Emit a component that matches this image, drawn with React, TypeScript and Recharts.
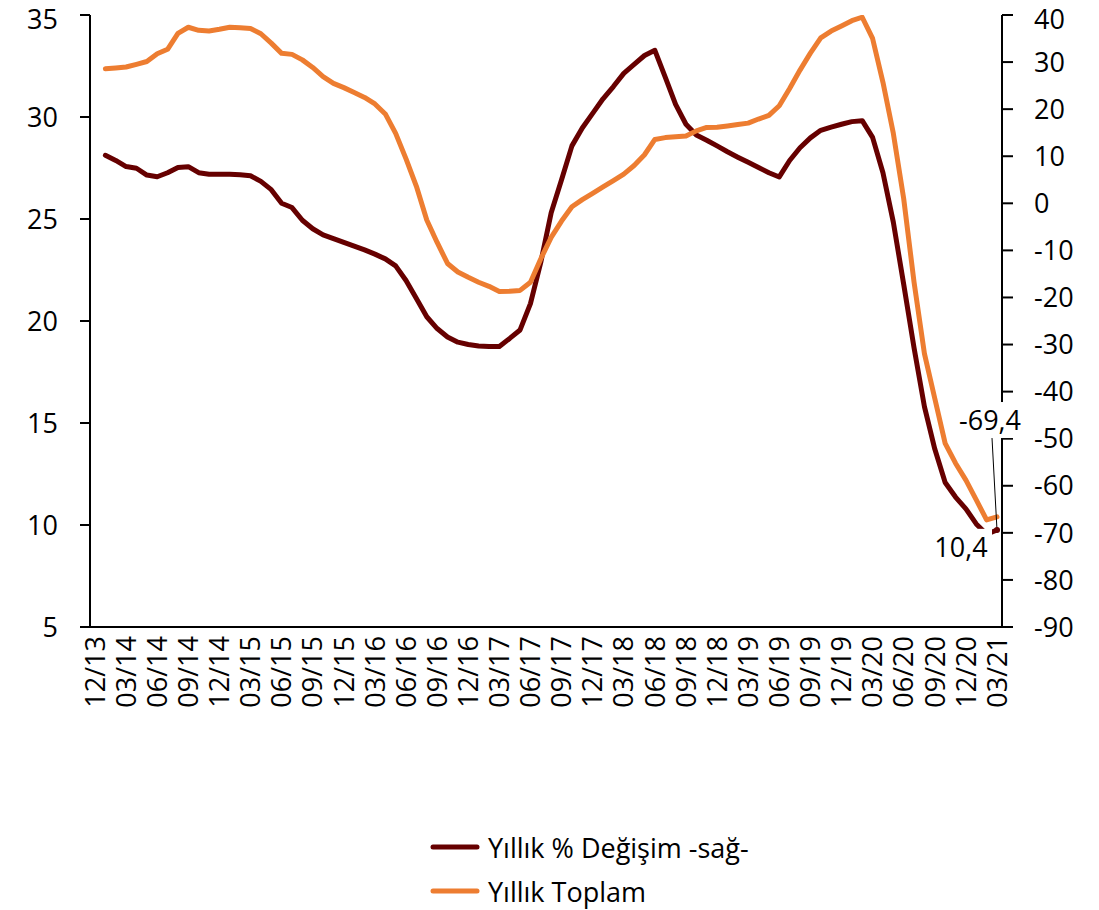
import React from 'react';
import { LineChart, Line, XAxis, YAxis, Legend, LabelList } from 'recharts';

const months = [
  '12/13',
  '01/14', '02/14', '03/14', '04/14', '05/14', '06/14', '07/14', '08/14', '09/14', '10/14', '11/14', '12/14',
  '01/15', '02/15', '03/15', '04/15', '05/15', '06/15', '07/15', '08/15', '09/15', '10/15', '11/15', '12/15',
  '01/16', '02/16', '03/16', '04/16', '05/16', '06/16', '07/16', '08/16', '09/16', '10/16', '11/16', '12/16',
  '01/17', '02/17', '03/17', '04/17', '05/17', '06/17', '07/17', '08/17', '09/17', '10/17', '11/17', '12/17',
  '01/18', '02/18', '03/18', '04/18', '05/18', '06/18', '07/18', '08/18', '09/18', '10/18', '11/18', '12/18',
  '01/19', '02/19', '03/19', '04/19', '05/19', '06/19', '07/19', '08/19', '09/19', '10/19', '11/19', '12/19',
  '01/20', '02/20', '03/20', '04/20', '05/20', '06/20', '07/20', '08/20', '09/20', '10/20', '11/20', '12/20',
  '01/21', '02/21', '03/21',
];

// Yıllık Toplam (left axis)
const annualTotal: (number | null)[] = [
  null,
  32.36, 32.40, 32.45, 32.58, 32.72, 33.1, 33.32, 34.1, 34.40, 34.25,
  34.22, 34.3, 34.40, 34.38, 34.34, 34.08, 33.62, 33.12, 33.07, 32.8,
  32.43, 31.98, 31.65, 31.44, 31.2, 30.96, 30.64, 30.15, 29.2, 27.95,
  26.6, 24.95, 23.85, 22.82, 22.4, 22.14, 21.9, 21.7, 21.45, 21.46,
  21.5, 21.9, 23.05, 24.1, 24.9, 25.6, 25.95, 26.26, 26.57, 26.88,
  27.2, 27.62, 28.15, 28.9, 28.99, 29.03, 29.07, 29.32, 29.49, 29.5,
  29.56, 29.63, 29.7, 29.9, 30.08, 30.55, 31.4, 32.3, 33.13, 33.88,
  34.21, 34.46, 34.72, 34.89, 33.85, 31.7, 29.2, 26.0, 21.9, 18.4,
  16.2, 14.0, 13.03, 12.2, 11.23, 10.25, 10.4,
];

// Yıllık % Değişim (right axis)
const annualChange: (number | null)[] = [
  null,
  10.2, 9.1, 7.8, 7.44, 6.0, 5.65, 6.5, 7.6, 7.78, 6.5,
  6.18, 6.17, 6.17, 6.05, 5.85, 4.65, 2.9, 0.0, -0.9, -3.6,
  -5.4, -6.7, -7.5, -8.3, -9.1, -9.9, -10.8, -11.8, -13.3, -16.4,
  -20.2, -24.1, -26.6, -28.4, -29.5, -30.0, -30.3, -30.4, -30.4, -28.7,
  -26.9, -21.3, -12.5, -2.0, 5.0, 12.2, 16.0, 19.1, 22.2, 24.8,
  27.6, 29.5, 31.4, 32.5, 26.8, 21.0, 16.8, 14.5, 13.4, 12.2,
  10.95, 9.8, 8.7, 7.6, 6.5, 5.6, 9.1, 11.8, 13.9, 15.5,
  16.2, 16.8, 17.35, 17.55, 14.0, 6.5, -4.0, -17.2, -30.7, -43.2,
  -52.2, -59.3, -62.4, -64.9, -68.1, -70.3, -69.4,
];

const leftTicks = [5, 10, 15, 20, 25, 30, 35];
const rightTicks = [-90, -80, -70, -60, -50, -40, -30, -20, -10, 0, 10, 20, 30, 40];

const changeName = 'Yıllık % Değişim -sağ-';
const totalName = 'Yıllık Toplam';

const DARK = '#660000';
const ORANGE = '#ED7D31';
const FONT = "'Open Sans', sans-serif";
const FS = 27;

const data = months.map((m, i) => ({ month: m, total: annualTotal[i], change: annualChange[i] }));
const LAST = months.length - 1;
const fmt = (v: number) => v.toFixed(1).replace('.', ',');

const XTick = (props: any) => {
  const { x, y, payload } = props;
  return (
    <g transform={`translate(${x},${y})`}>
      <text transform="rotate(-90)" textAnchor="end" dy="0.36em" fontFamily={FONT} fontSize={FS} fill="#000">
        {payload.value}
      </text>
    </g>
  );
};

// keeps the topmost tick text inside the picture
const YTick = (props: any) => {
  const { x, y, payload, textAnchor } = props;
  const ty = Math.max(y, 19.5);
  return (
    <text x={x} y={ty} dy="0.36em" textAnchor={textAnchor} fontFamily={FONT} fontSize={FS} fill="#000">
      {payload.value}
    </text>
  );
};

const getXY = (props: any) => {
  const x = props.x ?? props.viewBox?.x;
  const y = props.y ?? props.viewBox?.y;
  return { x, y };
};

const ChangeLabel = (props: any) => {
  const { index, value } = props;
  if (index !== LAST || value == null) return null;
  const { x, y } = getXY(props);
  return (
    <g>
      <line x1={x - 5} y1={y - 92} x2={x} y2={y} stroke="#000" strokeWidth={1} />
      <rect x={x - 42} y={y - 128} width={70} height={36} fill="#fff" />
      <text x={x - 7} y={y - 110} textAnchor="middle" dy="0.36em" fontFamily={FONT} fontSize={FS} fill="#000">
        {fmt(Number(value))}
      </text>
      <circle cx={x} cy={y} r={3} fill={DARK} />
    </g>
  );
};

const TotalLabel = (props: any) => {
  const { index, value } = props;
  if (index !== LAST || value == null) return null;
  const { x, y } = getXY(props);
  return (
    <g>
      <rect x={x - 67} y={y + 12} width={62} height={36} fill="#fff" />
      <text x={x - 36} y={y + 30} textAnchor="middle" dy="0.36em" fontFamily={FONT} fontSize={FS} fill="#000">
        {fmt(Number(value))}
      </text>
    </g>
  );
};

const legendItems = [
  { name: changeName, color: DARK },
  { name: totalName, color: ORANGE },
];

const LegendContent = () => (
  <div style={{ fontFamily: FONT, fontSize: FS, color: '#000' }}>
    {legendItems.map((item) => (
      <div key={item.name} style={{ display: 'flex', alignItems: 'center', height: 44 }}>
        <svg width={50} height={12} style={{ display: 'block' }}>
          <line x1={3} y1={6} x2={47} y2={6} stroke={item.color} strokeWidth={5} strokeLinecap="round" />
        </svg>
        <span style={{ marginLeft: 8, lineHeight: 'normal', whiteSpace: 'nowrap' }}>{item.name}</span>
      </div>
    ))}
  </div>
);

export default function App() {
  const axisStyle = { stroke: '#000', strokeWidth: 2 };
  return (
    <div style={{ position: 'absolute', left: 0, top: 0, width: 1099, height: 910, background: '#fff' }}>
      <LineChart width={1099} height={910} data={data} margin={{ top: 15, right: 0, bottom: 0, left: 0 }}>
        <XAxis
          dataKey="month"
          interval={2}
          tick={<XTick />}
          tickLine={false}
          tickSize={0}
          tickMargin={9}
          height={283}
          padding={{ left: 5, right: 5 }}
          axisLine={axisStyle}
        />
        <YAxis
          yAxisId="left"
          orientation="left"
          domain={[5, 35]}
          ticks={leftTicks}
          interval={0}
          width={90}
          tickSize={10}
          tickMargin={22}
          axisLine={axisStyle}
          tickLine={axisStyle}
          tick={<YTick />}
          allowDataOverflow
        />
        <YAxis
          yAxisId="right"
          orientation="right"
          domain={[-90, 40]}
          ticks={rightTicks}
          interval={0}
          width={97}
          tickSize={11}
          tickMargin={21}
          axisLine={axisStyle}
          tickLine={axisStyle}
          tick={<YTick />}
          allowDataOverflow
        />
        <Legend
          layout="vertical"
          align="center"
          verticalAlign="middle"
          content={<LegendContent />}
          wrapperStyle={{ left: 430, top: 825, width: 420, height: 88, right: 'auto', bottom: 'auto' }}
        />
        <Line
          yAxisId="right"
          type="linear"
          dataKey="change"
          name={changeName}
          stroke={DARK}
          strokeWidth={5}
          strokeLinejoin="round"
          strokeLinecap="round"
          dot={false}
          activeDot={false}
          isAnimationActive={false}
        >
          <LabelList dataKey="change" content={<ChangeLabel />} />
        </Line>
        <Line
          yAxisId="left"
          type="linear"
          dataKey="total"
          name={totalName}
          stroke={ORANGE}
          strokeWidth={5}
          strokeLinejoin="round"
          strokeLinecap="round"
          dot={false}
          activeDot={false}
          isAnimationActive={false}
        >
          <LabelList dataKey="total" content={<TotalLabel />} />
        </Line>
      </LineChart>
    </div>
  );
}
